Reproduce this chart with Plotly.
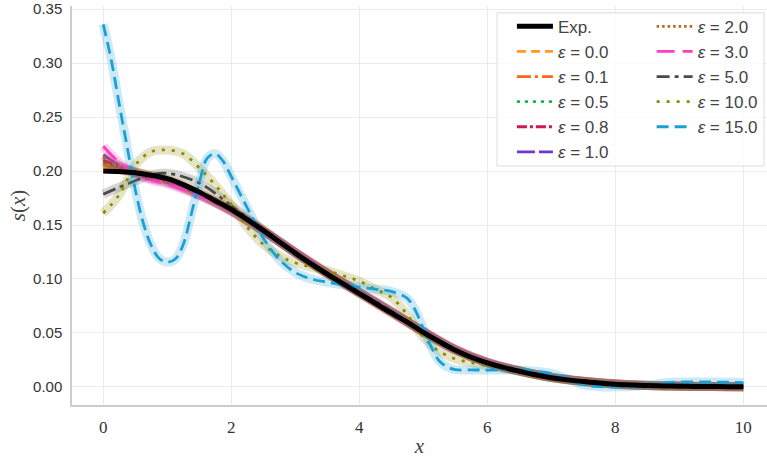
import plotly.graph_objects as go

# ---------------------------------------------------------------- data
# sampling positions
X_FINE = [0.0, 0.25, 0.5, 0.75, 1.0, 1.25, 1.5, 1.75, 2.0, 2.25, 2.5, 2.75,
          3.0, 3.25, 3.5, 3.75, 4.0, 4.25, 4.5, 4.75, 5.0, 5.25, 5.5, 5.75,
          6.0, 6.25, 6.5, 6.75, 7.0, 7.25, 7.5, 7.75, 8.0, 8.25, 8.5, 8.75,
          9.0, 9.25, 9.5, 9.75, 10.0]
X_COARSE = [0.0, 0.25, 0.5, 0.75, 1.0, 1.5, 2.0, 2.5, 3.0, 3.5, 4.0, 4.5,
            5.0, 5.5, 6.0, 6.5, 7.0, 7.5, 8.0, 8.5, 9.0, 9.5, 10.0]
X_EPS15 = [0.0, 0.125, 0.25, 0.375, 0.5, 0.625, 0.75, 0.875, 1.0, 1.125,
           1.25, 1.375, 1.5, 1.625, 1.75, 1.875, 2.0, 2.25, 2.5, 2.75, 3.0,
           3.25, 3.5, 3.75, 4.0, 4.25, 4.5, 4.75, 4.875, 5.0, 5.125, 5.25,
           5.375, 5.5, 5.75, 6.0, 6.5, 7.0, 7.25, 7.5, 7.75, 8.0, 8.25, 8.5,
           8.75, 9.0, 9.5, 10.0]

# experimental profile (on X_FINE)
S_EXP = [0.2000, 0.1995, 0.1985, 0.1962, 0.1930, 0.1875, 0.1805, 0.1725,
         0.1645, 0.1550, 0.1450, 0.1345, 0.1240, 0.1140, 0.1045, 0.0955,
         0.0865, 0.0775, 0.0685, 0.0600, 0.0505, 0.0420, 0.0340, 0.0275,
         0.0222, 0.0180, 0.0145, 0.0112, 0.0085, 0.0065, 0.0050, 0.0036,
         0.0025, 0.0018, 0.0012, 0.0009, 0.0006, 0.0004, 0.0003, 0.0002,
         0.0001]

# reconstructions for each epsilon (on X_COARSE unless noted)
S_EPS_0_0 = [0.2040, 0.2010, 0.1988, 0.1960, 0.1925, 0.1800, 0.1642, 0.1450,
             0.1242, 0.1047, 0.0866, 0.0686, 0.0506, 0.0342, 0.0223, 0.0146,
             0.0086, 0.0050, 0.0025, 0.0012, 0.0006, 0.0003, 0.0001]
S_EPS_0_1 = [0.2060, 0.2020, 0.1990, 0.1958, 0.1920, 0.1796, 0.1640, 0.1449,
             0.1243, 0.1048, 0.0868, 0.0687, 0.0507, 0.0342, 0.0224, 0.0147,
             0.0087, 0.0051, 0.0026, 0.0013, 0.0006, 0.0003, 0.0001]
S_EPS_0_5 = [0.2080, 0.2030, 0.1992, 0.1955, 0.1915, 0.1790, 0.1636, 0.1447,
             0.1244, 0.1050, 0.0870, 0.0690, 0.0510, 0.0344, 0.0225, 0.0148,
             0.0088, 0.0051, 0.0026, 0.0013, 0.0006, 0.0003, 0.0001]
S_EPS_0_8 = [0.2100, 0.2040, 0.1993, 0.1950, 0.1908, 0.1784, 0.1632, 0.1445,
             0.1245, 0.1052, 0.0872, 0.0692, 0.0512, 0.0346, 0.0226, 0.0148,
             0.0088, 0.0052, 0.0027, 0.0013, 0.0007, 0.0003, 0.0001]
S_EPS_1_0 = [0.2150, 0.2055, 0.1980, 0.1925, 0.1895, 0.1780, 0.1625, 0.1442,
             0.1246, 0.1055, 0.0875, 0.0695, 0.0514, 0.0347, 0.0227, 0.0149,
             0.0089, 0.0052, 0.0027, 0.0014, 0.0007, 0.0003, 0.0001]
S_EPS_2_0 = [0.2130, 0.2050, 0.1985, 0.1935, 0.1895, 0.1778, 0.1630, 0.1444,
             0.1246, 0.1056, 0.0877, 0.0697, 0.0516, 0.0348, 0.0228, 0.0150,
             0.0090, 0.0053, 0.0028, 0.0014, 0.0007, 0.0003, 0.0001]
S_EPS_3_0 = [0.2230, 0.2080, 0.1975, 0.1915, 0.1880, 0.1770, 0.1640, 0.1450,
             0.1250, 0.1058, 0.0878, 0.0698, 0.0516, 0.0348, 0.0228, 0.0150,
             0.0090, 0.0053, 0.0028, 0.0014, 0.0007, 0.0003, 0.0001]
S_EPS_5_0 = [0.1786, 0.1850, 0.1910, 0.1965, 0.1980, 0.1890, 0.1680, 0.1455,
             0.1240, 0.1050, 0.0880, 0.0703, 0.0508, 0.0340, 0.0221, 0.0145,
             0.0086, 0.0050, 0.0025, 0.0012, 0.0006, 0.0003, 0.0001]
# on X_FINE
S_EPS_10_0 = [0.1610, 0.1780, 0.2055, 0.2180, 0.2195, 0.2160, 0.2030, 0.1870,
              0.1690, 0.1480, 0.1320, 0.1215, 0.1150, 0.1110, 0.1075, 0.1030,
              0.0980, 0.0905, 0.0830, 0.0670, 0.0460, 0.0330, 0.0260, 0.0225,
              0.0195, 0.0170, 0.0145, 0.0115, 0.0088, 0.0066, 0.0050, 0.0036,
              0.0025, 0.0018, 0.0012, 0.0009, 0.0006, 0.0004, 0.0003, 0.0002,
              0.0001]
# on X_EPS15
S_EPS_15_0 = [0.3360, 0.3030, 0.2620, 0.2220, 0.1830, 0.1520, 0.1310, 0.1190,
              0.1155, 0.1185, 0.1320, 0.1600, 0.1890, 0.2120, 0.2160, 0.2090,
              0.1950, 0.1660, 0.1380, 0.1180, 0.1060, 0.1000, 0.0970, 0.0945,
              0.0925, 0.0905, 0.0885, 0.0820, 0.0710, 0.0540, 0.0370, 0.0240,
              0.0185, 0.0160, 0.0157, 0.0156, 0.0157, 0.0125, 0.0075, 0.0020,
              0.0002, 0.0000, 0.0003, 0.0015, 0.0035, 0.0045, 0.0045, 0.0040]

EPS_LABELS = ["0.0", "0.1", "0.5", "0.8", "1.0", "2.0", "3.0", "5.0", "10.0", "15.0"]
EPS_X = [X_COARSE] * 8 + [X_FINE, X_EPS15]
EPS_Y = [S_EPS_0_0, S_EPS_0_1, S_EPS_0_5, S_EPS_0_8, S_EPS_1_0,
         S_EPS_2_0, S_EPS_3_0, S_EPS_5_0, S_EPS_10_0, S_EPS_15_0]
EPS_COLORS = ["#ff9b1e", "#ff6419", "#12b449", "#d4174c", "#7237d0",
              "#b5651d", "#ff3dbd", "#4a4a4a", "#8b8a00", "#1aa0d6"]
EPS_DASH = ["9px,5px", "14px,4px,3px,4px", "3px,5px", "10px,3px,3px,3px",
            "18px,4px", "2.5px,3px", "18px,8px", "13px,5px,4px,5px",
            "3px,7px", "12px,6px"]
# first column of the legend holds eps <= 1.0, second column the rest
EPS_LEGEND = ["legend"] * 5 + ["legend2"] * 5

SANS = "Liberation Sans"
SERIF = "Liberation Serif"

fig = go.Figure()

for i, lab in enumerate(EPS_LABELS):
    # soft halo under each reconstruction
    fig.add_trace(go.Scatter(
        x=EPS_X[i], y=EPS_Y[i], mode="lines", line_shape="spline",
        line=dict(color=EPS_COLORS[i], width=9), opacity=0.22,
        showlegend=False, hoverinfo="skip", legend=EPS_LEGEND[i],
        legendgroup=f"eps{i}"))
    fig.add_trace(go.Scatter(
        x=EPS_X[i], y=EPS_Y[i], mode="lines", line_shape="spline",
        line=dict(color=EPS_COLORS[i], width=2.8, dash=EPS_DASH[i]),
        name=f"<i>ε</i> = {lab}", legend=EPS_LEGEND[i],
        legendrank=10 + i, legendgroup=f"eps{i}"))

fig.add_trace(go.Scatter(
    x=X_FINE, y=S_EXP, mode="lines", line_shape="spline",
    line=dict(color="black", width=5), name="Exp.",
    legend="legend", legendrank=1, legendgroup="exp"))

# legend frame spanning both columns
fig.add_shape(type="rect", xref="paper", yref="paper",
              x0=0.6115, x1=0.9957, y0=0.599, y1=0.983,
              fillcolor="rgba(255,255,255,0.8)",
              line=dict(color="#dcdcdc", width=1), layer="above")

legend_common = dict(bgcolor="rgba(0,0,0,0)", borderwidth=0,
                     font=dict(family=SANS, size=17, color="#444"),
                     xanchor="left", yanchor="top", tracegroupgap=0,
                     itemwidth=36, groupclick="toggleitem")
fig.update_layout(
    width=767, height=458,
    margin=dict(l=72, r=0, t=6, b=48),
    paper_bgcolor="white", plot_bgcolor="white",
    showlegend=True,
    legend=dict(x=0.633, y=0.993, **legend_common),
    legend2=dict(x=0.834, y=0.993, **legend_common),
    xaxis=dict(range=[-0.488, 10.37], tickvals=[0, 2, 4, 6, 8, 10],
               showgrid=True, gridcolor="#ebebeb", gridwidth=1,
               zeroline=False, showline=True, linecolor="#cccccc",
               linewidth=1.5, ticks="", ticklabelstandoff=6,
               tickfont=dict(family=SERIF, size=17, color="#333"),
               title=dict(text="<i>x</i>", standoff=6,
                          font=dict(family=SERIF, size=21, color="#444"))),
    yaxis=dict(range=[-0.0168, 0.353],
               tickvals=[0.0, 0.05, 0.10, 0.15, 0.20, 0.25, 0.30, 0.35],
               tickformat=".2f",
               showgrid=True, gridcolor="#ebebeb", gridwidth=1,
               zeroline=False, showline=True, linecolor="#cccccc",
               linewidth=1.5, ticks="", ticklabelstandoff=5,
               tickfont=dict(family=SANS, size=15, color="#333"),
               title=dict(text="<i>s</i>(<i>x</i>)", standoff=2,
                          font=dict(family=SERIF, size=21, color="#444"))),
)

fig.write_html("out.html")
